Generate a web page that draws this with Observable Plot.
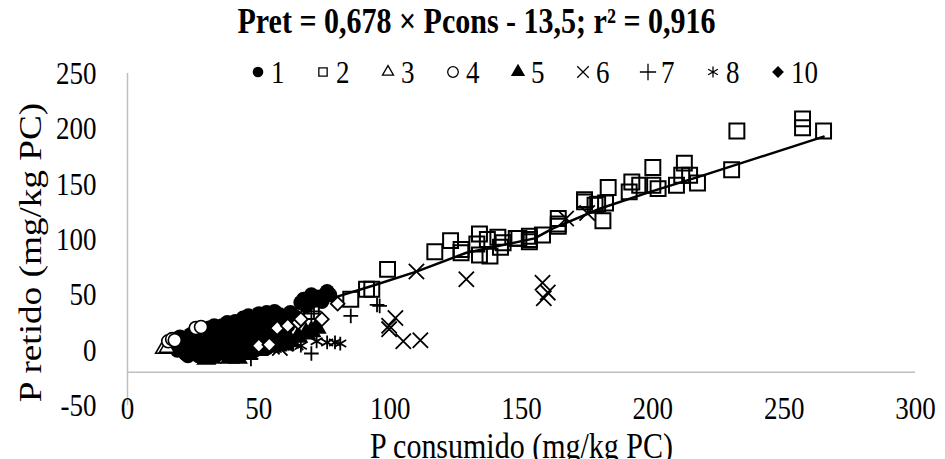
<!DOCTYPE html>
<html><head><meta charset="utf-8">
<script src="https://cdn.jsdelivr.net/npm/d3@7"></script>
<script src="https://cdn.jsdelivr.net/npm/@observablehq/plot@0.6"></script>
<style>
body{margin:0;background:#fff;font-family:"Liberation Serif","Times New Roman",serif;}
#wrap{position:relative;width:945px;height:459px;overflow:hidden;}
#title{height:40px;text-align:center;color:#000;padding-left:8px;padding-top:2px;box-sizing:border-box;}
#title span{display:inline-block;font-weight:bold;font-size:30px;line-height:38px;transform:scaleY(1.18);transform-origin:50% 50%;}
#legend{position:absolute;left:251px;top:57px;display:flex;align-items:center;height:30px;font-size:27px;color:#000;}
#legend .item{display:flex;align-items:center;width:65px;}
#legend svg{margin-right:6px;overflow:visible;}
#legend span{display:inline-block;transform:scaleY(1.2);line-height:30px;}
</style></head>
<body>
<div id="wrap">
  <div id="title"><span>Pret = 0,678 × Pcons - 13,5; r² = 0,916</span></div>
  <div id="chart"></div>
  <div id="legend"></div>
</div>
<script>
// ---- data ----
const xTicks = [0, 50, 100, 150, 200, 250, 300];
const yTicks = [-50, 0, 50, 100, 150, 200, 250];
const xLabel = "P consumido (mg/kg PC)";
const yLabel = "P retido (mg/kg PC)";
const seriesNames = ["1", "2", "3", "4", "5", "6", "7", "8", "10"];
const axisCross = -20;

const series1 = [[17,4],[18,8],[19,0],[20,12],[21,5],[22,-3],[22,9],[23,-5],[24,14],[24,3],[25,-1],[26,19],[26,8],[27,-5],[28,13],[28,2],[29,17],[30,-4],[30,8],[31,20],[32,12],[32,0],[33,22],[34,-4],[34,15],[35,6],[36,22],[36,-2],[37,11],[38,25],[38,18],[39,2],[40,-4],[40,14],[41,26],[42,7],[42,20],[43,-3],[44,29],[44,14],[45,3],[46,31],[46,21],[47,10],[48,-1],[48,27],[49,17],[50,33],[50,6],[51,24],[52,13],[53,34],[53,2],[54,28],[55,18],[56,35],[56,8],[57,25],[58,32],[59,14],[60,30],[61,22],[62,34],[64,30],[66,43],[67,46],[68,40],[70,50],[71,45],[73,48],[74,44],[76,53],[77,50]];
const series2 = [[70,35],[85,46],[91,55],[93,55],[99,73],[117,89],[123,99],[127,91],[127,88],[133,96],[134,105],[134,86],[137,100],[138,85],[141,102],[142,93],[143,97],[148,101],[149,101],[153,100],[153,103],[153,98],[158,104],[164,112],[164,119],[164,114],[174,134],[174,136],[178,131],[179,132],[181,117],[182,133],[183,147],[191,143],[192,152],[195,149],[200,149],[200,165],[202,146],[209,149],[211,158],[212,169],[214,158],[217,151],[230,163],[232,198],[257,209],[257,201],[265,198]];
const series3 = [[13.5,1],[15,2]];
const series4 = [[15.5,8],[17,10],[18,9],[26,20],[28,21]];
const series5 = [[30,-8],[32,-7],[39,-7],[40,-6],[42,-7],[45,-3],[50,0],[55,3],[57,4],[58,10],[60,5],[62,8],[65,12],[68,15],[70,17],[72,20]];
const series6 = [[51,5],[55,3],[58,2],[60,6],[64,7],[99.6,22],[99.6,19],[102,29],[105,8],[111.5,9],[110,71],[129,64],[158,61],[160,52],[158.5,47],[167,119],[175,124]];
const series7 = [[47,-8],[70,-3],[70,33],[71,35],[85,31],[95,41],[96,40]];
const series8 = [[63,5],[66,4],[72,8],[76,7],[79,7],[81,6]];
const series10 = [[50,4],[54,5],[57,20],[61,22],[65,25],[66,28],[74,28],[80,42]];
const fitLine = [[22,3],[45,22],[65,38],[78,47],[93,58],[110,71],[129,88],[137,92],[155,101],[162,110],[180,128],[199,143],[218,157],[265,193]];

const seriesData = [series1, series2, series3, series4, series5, series6, series7, series8, series10];

// ---- styles ----
const markStyle = [
  {symbol: "circle", r: 7.5, fill: "black", stroke: "none"},
  {symbol: "square2", r: 9.5, fill: "none", stroke: "black", strokeWidth: 2},
  {symbol: "triangle2", r: 7, fill: "white", stroke: "black", strokeWidth: 1.6},
  {symbol: "circle", r: 6.5, fill: "white", stroke: "black", strokeWidth: 1.6},
  {symbol: "triangle", r: 7.5, fill: "black", stroke: "none"},
  {symbol: "times", r: 7, fill: "none", stroke: "black", strokeWidth: 1.8},
  {symbol: "plus", r: 4.8, fill: "none", stroke: "black", strokeWidth: 1.8},
  {symbol: "asterisk", r: 6.5, fill: "none", stroke: "black", strokeWidth: 1.8},
  {symbol: "diamond2", r: 6.2, fill: "white", stroke: "black", strokeWidth: 1.8}
];
const textStretch = 1.2;

const marks = [
  Plot.ruleX([0], {stroke: "#bfbfbf", strokeWidth: 1.5}),
  Plot.ruleY([axisCross], {stroke: "#bfbfbf", strokeWidth: 1.5}),
  Plot.axisY({ticks: yTicks, tickSize: 0, tickPadding: 31, fontSize: 27, tickFormat: d => d < 0 ? "-" + Math.abs(d) : String(d), label: null}),
  Plot.axisX({ticks: xTicks, tickSize: 0, tickPadding: 0, dy: -10, fontSize: 27, label: null})
];
seriesData.forEach((s, i) => {
  const st = markStyle[i];
  marks.push(Plot.dot(s, {x: d => d[0], y: d => d[1], ...st}));
});
marks.push(Plot.line(fitLine, {x: d => d[0], y: d => d[1], stroke: "black", strokeWidth: 2.5}));
marks.push(Plot.text([xLabel], {frameAnchor: "bottom", dy: 41, fontSize: 30, lineAnchor: "middle", textAnchor: "middle", fill: "black"}));
marks.push(Plot.text([yLabel], {frameAnchor: "left", dx: -96, dy: 13, rotate: -90, fontSize: 31, lineAnchor: "middle", textAnchor: "middle", fill: "black"}));

const chart = Plot.plot({
  width: 945,
  height: 419,
  marginTop: 33,
  marginBottom: 54,
  marginLeft: 127,
  marginRight: 30,
  style: {fontFamily: "'Liberation Serif','Times New Roman',serif", color: "black", background: "white", overflow: "visible"},
  x: {domain: [0, 300]},
  y: {domain: [-50, 250]},
  marks
});
// stretch text glyphs vertically, as in the reference
d3.select(chart).selectAll("text").each(function() {
  const el = d3.select(this);
  let tr = el.attr("transform");
  if (!tr) {
    const x = el.attr("x") || 0, y = el.attr("y") || 0;
    el.attr("x", null).attr("y", null);
    tr = `translate(${x},${y})`;
  }
  el.attr("transform", tr + (tr.includes("rotate") ? ` scale(${textStretch},1)` : ` scale(1,${textStretch})`));
});
document.getElementById("chart").appendChild(chart);

// ---- legend (HTML) ----
const legend = document.getElementById("legend");
const symbolMap = {circle: d3.symbolCircle, square2: d3.symbolSquare2, triangle2: d3.symbolTriangle2, triangle: d3.symbolTriangle, times: d3.symbolTimes, plus: d3.symbolPlus, asterisk: d3.symbolAsterisk, diamond2: d3.symbolDiamond2};
seriesNames.forEach((name, i) => {
  const st = markStyle[i];
  const item = document.createElement("div");
  item.className = "item";
  const filled = st.fill === "black" || st.symbol === "diamond2";
  const size = Math.PI * 5.3 * 5.3;
  const svg = d3.create("svg").attr("width", 14).attr("height", 14).attr("viewBox", "-7 -7 14 14");
  svg.append("path").attr("d", d3.symbol(symbolMap[st.symbol], size)())
    .attr("fill", filled ? "black" : "none")
    .attr("stroke", filled ? "none" : "black").attr("stroke-width", 1.3);
  item.appendChild(svg.node());
  const t = document.createElement("span");
  t.textContent = name;
  item.appendChild(t);
  legend.appendChild(item);
});
</script>
</body></html>
